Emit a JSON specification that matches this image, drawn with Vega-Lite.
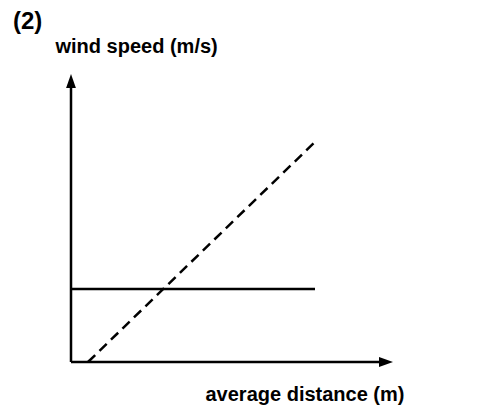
{
  "$schema": "https://vega.github.io/schema/vega-lite/v6.json",
  "width": 478,
  "height": 411,
  "autosize": "none",
  "padding": 0,
  "background": "white",
  "config": {
    "view": {"stroke": null},
    "font": "Liberation Sans"
  },
  "title": {
    "text": "(2)",
    "anchor": "start",
    "frame": "group",
    "offset": -31,
    "baseline": "alphabetic",
    "dx": 13,
    "dy": 22,
    "fontSize": 24,
    "fontWeight": "bold",
    "font": "Liberation Sans",
    "color": "black"
  },
  "datasets": {
    "lines": [
      {"series": "yaxis", "x": 0, "y": 0},
      {"series": "yaxis", "x": 0, "y": 282},
      {"series": "xaxis", "x": 0, "y": 0},
      {"series": "xaxis", "x": 312, "y": 0},
      {"series": "level", "x": 0, "y": 73},
      {"series": "level", "x": 244, "y": 73},
      {"series": "trend", "x": 17, "y": 0},
      {"series": "trend", "x": 246, "y": 222}
    ],
    "heads": [
      {"dir": "up", "x": 0, "y": 281},
      {"dir": "right", "x": 315, "y": 0}
    ]
  },
  "layer": [
    {
      "data": {"name": "lines"},
      "transform": [{"filter": "datum.series !== 'trend'"}],
      "mark": {"type": "line", "color": "black", "strokeWidth": 2.5, "strokeCap": "butt"},
      "encoding": {
        "x": {
          "field": "x", "type": "quantitative",
          "scale": {"domain": [-71, 407], "nice": false, "zero": false},
          "axis": {
            "domain": false, "ticks": false, "labels": false, "grid": false,
            "title": "average distance (m)",
            "titleX": 205, "titleY": -11,
            "titleAlign": "left", "titleBaseline": "alphabetic",
            "titleFontSize": 20, "titleFontWeight": "bold", "titleColor": "black",
            "titleFont": "Liberation Sans"
          }
        },
        "y": {
          "field": "y", "type": "quantitative",
          "scale": {"domain": [-49, 362], "nice": false, "zero": false},
          "axis": {
            "domain": false, "ticks": false, "labels": false, "grid": false,
            "title": "wind speed (m/s)",
            "titleAngle": 0, "titleX": 55, "titleY": 52,
            "titleAlign": "left", "titleBaseline": "alphabetic",
            "titleFontSize": 20, "titleFontWeight": "bold", "titleColor": "black",
            "titleFont": "Liberation Sans"
          }
        },
        "detail": {"field": "series"}
      }
    },
    {
      "data": {"name": "lines"},
      "transform": [{"filter": "datum.series === 'trend'"}],
      "mark": {"type": "line", "color": "black", "strokeWidth": 2.5, "strokeDash": [10, 6]},
      "encoding": {
        "x": {"field": "x", "type": "quantitative"},
        "y": {"field": "y", "type": "quantitative"}
      }
    },
    {
      "data": {"name": "heads"},
      "mark": {"type": "point", "filled": true, "color": "black", "opacity": 1, "size": 196},
      "encoding": {
        "x": {"field": "x", "type": "quantitative"},
        "y": {"field": "y", "type": "quantitative"},
        "shape": {
          "field": "dir", "type": "nominal",
          "scale": {"domain": ["up", "right"], "range": ["M0,-1L0.7,1L-0.7,1Z", "M1,0L-1,0.7L-1,-0.7Z"]},
          "legend": null
        }
      }
    }
  ]
}
